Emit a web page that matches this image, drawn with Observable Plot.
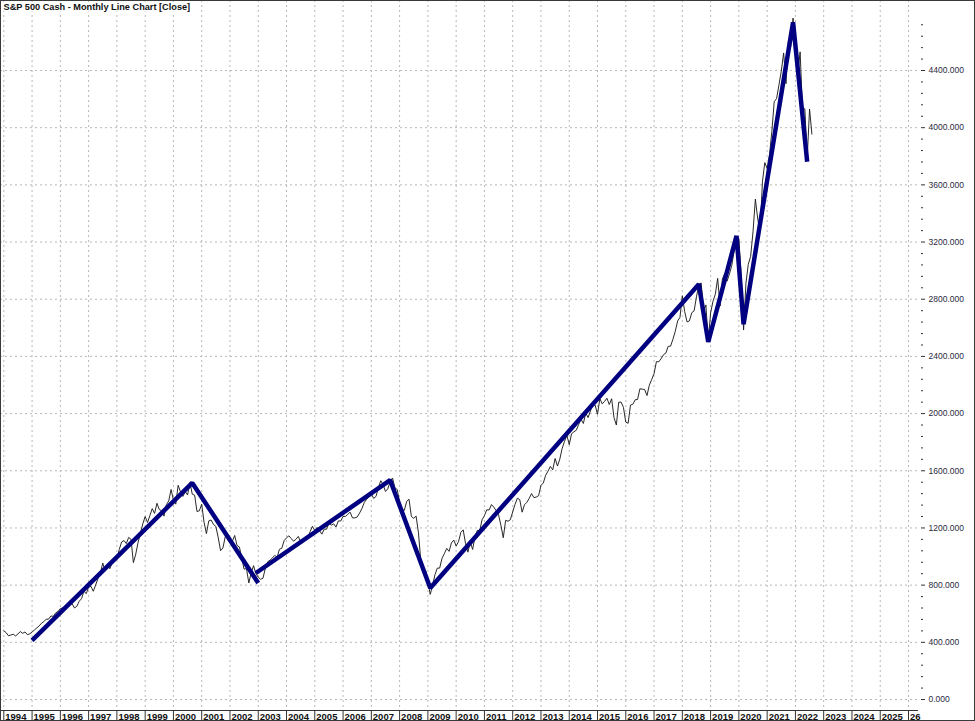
<!DOCTYPE html>
<html><head><meta charset="utf-8">
<script src="https://cdn.jsdelivr.net/npm/d3@7"></script>
<script src="https://cdn.jsdelivr.net/npm/@observablehq/plot@0.6"></script>
<style>
html,body{margin:0;padding:0;background:#fff;}
#chart svg{display:block;outline:1px solid #3a3a3a;outline-offset:-1px;}
</style></head><body><div id="chart"></div>
<script>
const title = "S&P 500 Cash - Monthly Line Chart [Close]";

// Monthly closes, first value = January 1994
const firstYear = 1994;
const monthlyClose = [
  481.6,467.1,445.8,450.9,456.5,444.3,458.3,475.5,462.7,472.4,453.7,459.3,
  470.4,487.4,500.7,514.7,533.4,544.8,562.1,561.9,584.4,581.5,605.4,615.9,
  636.0,640.4,645.5,654.2,669.1,670.6,640.0,652.0,687.3,705.3,757.0,740.7,
  786.2,790.8,757.1,801.3,848.3,885.1,954.3,899.5,947.3,914.6,955.4,970.4,
  980.3,1049.3,1101.8,1111.8,1090.8,1133.8,1120.7,957.3,1017.0,1098.7,1163.6,1229.2,
  1279.6,1238.3,1286.4,1335.2,1301.8,1372.7,1328.7,1320.4,1282.7,1362.9,1388.9,1469.3,
  1394.5,1366.4,1498.6,1452.4,1420.6,1454.6,1430.8,1517.7,1436.5,1429.4,1315.0,1320.3,
  1366.0,1239.9,1160.3,1249.5,1255.8,1224.4,1211.2,1133.6,1040.9,1059.8,1139.5,1148.1,
  1130.2,1106.7,1147.4,1076.9,1067.1,989.8,911.6,916.1,815.3,885.8,936.3,879.8,
  855.7,841.2,848.2,916.9,963.6,974.5,990.3,1008.0,996.0,1050.7,1058.2,1111.9,
  1131.1,1144.9,1126.2,1107.3,1120.7,1140.8,1101.7,1104.2,1114.6,1130.2,1173.8,1211.9,
  1181.3,1203.6,1180.6,1156.9,1191.5,1191.3,1234.2,1220.3,1228.8,1207.0,1249.5,1248.3,
  1280.1,1280.7,1294.8,1310.6,1270.1,1270.2,1276.7,1303.8,1335.9,1377.9,1400.6,1418.3,
  1438.2,1406.8,1420.9,1482.4,1530.6,1503.4,1455.3,1474.0,1526.8,1549.4,1481.1,1468.4,
  1378.6,1330.6,1322.7,1385.6,1400.4,1280.0,1267.4,1282.8,1166.4,968.8,896.2,903.3,
  825.9,735.1,797.9,872.8,919.1,919.3,987.5,1020.6,1057.1,1036.2,1095.6,1115.1,
  1073.9,1104.5,1169.4,1186.7,1089.4,1030.7,1101.6,1049.3,1141.2,1183.3,1180.6,1257.6,
  1286.1,1327.2,1325.8,1363.6,1345.2,1320.6,1292.3,1218.9,1131.4,1253.3,1247.0,1257.6,
  1312.4,1365.7,1408.5,1397.9,1310.3,1362.2,1379.3,1406.6,1440.7,1412.2,1416.2,1426.2,
  1498.1,1514.7,1569.2,1597.6,1630.7,1606.3,1685.7,1633.0,1681.6,1756.5,1805.8,1848.4,
  1782.6,1859.5,1872.3,1884.0,1923.6,1960.2,1930.7,2003.4,1972.3,2018.1,2067.6,2058.9,
  1995.0,2104.5,2067.9,2085.5,2107.4,2063.1,2103.8,1972.2,1920.0,2079.4,2080.4,2043.9,
  1940.2,1932.2,2059.7,2065.3,2097.0,2098.9,2173.6,2171.0,2168.3,2126.2,2198.8,2238.8,
  2278.9,2363.6,2362.7,2384.2,2411.8,2423.4,2470.3,2471.7,2519.4,2575.3,2647.6,2673.6,
  2823.8,2713.8,2640.9,2648.1,2705.3,2718.4,2816.3,2901.5,2914.0,2711.7,2760.2,2506.9,
  2704.1,2784.5,2834.4,2945.8,2752.1,2941.8,2980.4,2926.5,2976.7,3037.6,3141.0,3230.8,
  3225.5,2954.2,2584.6,2912.4,3044.3,3100.3,3271.1,3500.3,3363.0,3270.0,3621.6,3756.1,
  3714.2,3811.2,3972.9,4181.2,4204.1,4297.5,4395.3,4522.7,4307.5,4605.4,4567.0,4766.2,
  4515.6,4373.9,4530.4,4131.9,4132.2,3785.4,4130.3,3955.0
];

// Thick zig-zag swing line (two drawn legs)
const swingA_months = ["1995-01","2000-09","2003-01"];
const swingA_values = [413,1515,815];
const swingB_months = ["2002-12","2007-09","2009-02","2018-08","2018-12","2019-12","2020-03","2021-12","2022-06"];
const swingB_values = [885,1534,780,2905,2501,3243,2625,4737,3762];

// Axis ticks and labels
const yearTicks = [1994,1995,1996,1997,1998,1999,2000,2001,2002,2003,2004,2005,2006,2007,2008,2009,2010,2011,2012,2013,2014,2015,2016,2017,2018,2019,2020,2021,2022,2023,2024,2025,2026];
const yearLabels = ["1994","1995","1996","1997","1998","1999","2000","2001","2002","2003","2004","2005","2006","2007","2008","2009","2010","2011","2012","2013","2014","2015","2016","2017","2018","2019","2020","2021","2022","2023","2024","2025","26"];
const priceTicks = [0,400,800,1200,1600,2000,2400,2800,3200,3600,4000,4400];
const minorPriceTicks = d3.range(0, 4721, 80).filter(v => v % 400 !== 0);

const toYear = s => { const [y, m] = s.split("-").map(Number); return y + (m - 1) / 12; };
const closes = monthlyClose.map((v, i) => ({t: firstYear + i / 12, v}));
const swing = [
  ...swingA_months.map((m, i) => ({t: toYear(m), v: swingA_values[i], leg: "A"})),
  ...swingB_months.map((m, i) => ({t: toYear(m), v: swingB_values[i], leg: "B"}))
];

const gridStyle = {stroke: "#b8b8b8", strokeOpacity: 1, strokeDasharray: "2,3", strokeWidth: 1};

const chart = Plot.plot({
  width: 975,
  height: 721,
  marginLeft: 0,
  marginRight: 57,
  marginTop: 0,
  marginBottom: 11,
  style: {fontFamily: "Liberation Sans, Arial, sans-serif", fontSize: "8.5px", background: "#fff", color: "#222"},
  x: {type: "linear", domain: [1994, 2026], range: [3.3, 908], label: null},
  y: {domain: [0, 4400], range: [699, 70], label: null},
  marks: [
    Plot.gridX(yearTicks, gridStyle),
    Plot.gridY(priceTicks, gridStyle),
    Plot.line(closes, {x: "t", y: "v", stroke: "#1e1e1e", strokeWidth: 0.95}),
    Plot.line(swing, {x: "t", y: "v", z: "leg", stroke: "#000080", strokeWidth: 4.5, strokeLinejoin: "miter", strokeLinecap: "butt"}),
    Plot.axisY(minorPriceTicks, {anchor: "right", label: null, tickSize: 2, tickPadding: 0, dx: 2, tickFormat: () => "", stroke: "#333"}),
    Plot.axisY(priceTicks, {anchor: "right", label: null, tickSize: 4, tickPadding: 4, dx: 2, tickFormat: d => d.toFixed(3), stroke: "#333", fill: "#2a2a40", fontSize: 8.5}),
    Plot.ruleY([0], {dy: 11, stroke: "#333", strokeWidth: 1}),
    Plot.axisX(yearTicks, {anchor: "bottom", label: null, tickSize: 10, tickPadding: 0, tickFormat: () => "", stroke: "#333"}),
    Plot.text(yearTicks, {x: d => d, text: (d, i) => yearLabels[i], frameAnchor: "bottom", dy: 9, dx: 1.5, textAnchor: "start", lineAnchor: "bottom", fontWeight: "bold", fontSize: 9.5, fill: "#111"}),
    Plot.text([title], {frameAnchor: "top-left", dx: 3, dy: 3, lineAnchor: "top", fontWeight: "bold", fontSize: 9.2, fill: "#111", stroke: "#fff", strokeWidth: 3, paintOrder: "stroke"})
  ]
});
document.getElementById("chart").appendChild(chart);
</script></body></html>
